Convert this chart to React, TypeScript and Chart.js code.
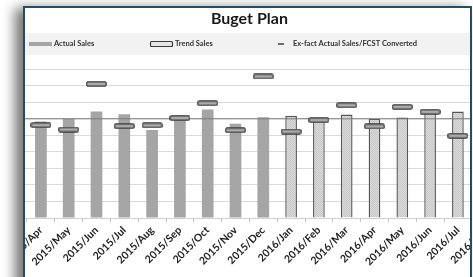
import React, { useEffect, useRef } from 'react';
import { Chart, registerables } from 'chart.js';

Chart.register(...registerables);

const categories = [
  '2015/Mar', '2015/Apr', '2015/May', '2015/Jun', '2015/Jul', '2015/Aug', '2015/Sep',
  '2015/Oct', '2015/Nov', '2015/Dec', '2016/Jan', '2016/Feb', '2016/Mar', '2016/Apr',
  '2016/May', '2016/Jun', '2016/Jul', '2016/Aug',
];
const actualSales = [
  null, 58.4, 60.0, 64.4, 62.8, 53.3, 62.0, 65.6, 57.0, 61.0,
  61.8, 60.0, 62.6, 60.0, 60.8, 65.2, 64.4, null,
];
const trendSales = [
  null, 56.2, 53.5, 81.1, 55.6, 56.0, 60.5, 69.4, 53.1, 85.6,
  52.3, 59.2, 68.2, 55.4, 67.2, 64.2, 49.7, null,
];
const exFactConverted = [
  60, 60, 60, 60, 60, 60, 60, 60, 60, 60, 60, 60, 60, 60, 60, 60, 60, 60,
];
const forecastFrom = '2016/Jan';
const yMin = 0;
const yMax = 90;
const yStep = 10;
const title = 'Buget Plan';
const legendLabels = ['Actual Sales', 'Trend Sales', 'Ex-fact Actual Sales/FCST Converted'];

function makeMarker(): HTMLCanvasElement {
  const c = document.createElement('canvas');
  c.width = 21;
  c.height = 6;
  const g = c.getContext('2d')!;
  g.fillStyle = '#ababab';
  g.strokeStyle = '#3a3a3a';
  g.lineWidth = 1.2;
  g.beginPath();
  (g as any).roundRect(0.8, 0.8, 19.4, 4.4, 1.2);
  g.fill();
  g.stroke();
  return c;
}

function makePattern(): CanvasPattern | string {
  const c = document.createElement('canvas');
  c.width = 2;
  c.height = 2;
  const g = c.getContext('2d')!;
  g.fillStyle = '#dadada';
  g.fillRect(0, 0, 2, 2);
  g.fillStyle = '#c8c8c8';
  g.fillRect(0, 0, 1, 1);
  g.fillRect(1, 1, 1, 1);
  const p = g.createPattern(c, 'repeat');
  return p || '#d4d4d4';
}

const legendPlugin = {
  id: 'excelLegend',
  afterDraw(chart: any) {
    const ctx = chart.ctx as CanvasRenderingContext2D;
    ctx.save();
    ctx.fillStyle = '#f2f2f2';
    ctx.fillRect(0, 25, chart.width, 22);
    const cy = 36;
    ctx.fillStyle = '#a5a5a5';
    ctx.fillRect(39, cy - 2, 23, 4);
    ctx.fillStyle = '#e6e6e6';
    ctx.strokeStyle = '#3a3a3a';
    ctx.lineWidth = 1.2;
    ctx.beginPath();
    (ctx as any).roundRect(160.5, cy - 2.5, 22, 5, 1);
    ctx.fill();
    ctx.stroke();
    ctx.strokeStyle = '#404040';
    ctx.lineWidth = 1.5;
    ctx.beginPath();
    ctx.moveTo(288, cy);
    ctx.lineTo(294, cy);
    ctx.stroke();
    ctx.fillStyle = '#333333';
    ctx.font = 'bold 7.5px Lato';
    ctx.textBaseline = 'middle';
    ctx.textAlign = 'left';
    ctx.fillText(legendLabels[0], 64, cy);
    ctx.fillText(legendLabels[1], 185, cy);
    ctx.fillText(legendLabels[2], 303, cy);
    ctx.restore();
  },
};

export default function App() {
  const ref = useRef<HTMLCanvasElement>(null);

  useEffect(() => {
    if (!ref.current) return;
    const fIdx = categories.indexOf(forecastFrom);
    const pattern = makePattern();
    const marker = makeMarker();
    const bg = categories.map((_, i) => (i >= fIdx ? pattern : '#a5a5a5'));
    const bc = categories.map((_, i) => (i >= fIdx ? '#555555' : '#a5a5a5'));
    const bw = categories.map((_, i) => (i >= fIdx ? 1.4 : 0));

    const chart = new Chart(ref.current, {
      type: 'bar',
      data: {
        labels: categories,
        datasets: [
          {
            type: 'line',
            label: legendLabels[1],
            data: trendSales as any,
            showLine: false,
            pointStyle: marker as any,
            pointRadius: 6,
            order: 0,
          } as any,
          {
            type: 'line',
            label: legendLabels[2],
            data: exFactConverted,
            borderColor: '#7a7a7a',
            borderWidth: 1,
            pointRadius: 0,
            order: 1,
          } as any,
          {
            type: 'bar',
            label: legendLabels[0],
            data: actualSales as any,
            backgroundColor: bg as any,
            borderColor: bc,
            borderWidth: bw,
            barPercentage: 0.42,
            categoryPercentage: 1,
            order: 2,
          } as any,
        ],
      },
      options: {
        animation: false,
        responsive: false,
        devicePixelRatio: 1,
        layout: { padding: { left: 9.2, right: 22.4, top: 0, bottom: 0 } },
        plugins: {
          legend: { display: false },
          tooltip: { enabled: false },
          title: {
            display: true,
            text: title,
            color: '#1a1a1a',
            font: { family: 'Lato', weight: 'bold', size: 16 },
            padding: { top: 1, bottom: 41 },
          },
        },
        scales: {
          x: {
            grid: {
              display: true,
              drawOnChartArea: false,
              drawTicks: true,
              tickLength: 4,
              color: '#bfbfbf',
              offset: true,
            },
            border: { display: true, color: '#d0d0d0' },
            ticks: {
              autoSkip: false,
              minRotation: 45,
              maxRotation: 45,
              padding: 2,
              color: '#222222',
              font: { family: 'Lato', weight: 'bold', size: 10.5 },
            },
            afterFit: (s: any) => {
              s.paddingLeft = 0;
              s.paddingRight = 0;
              s.height = 90;
            },
          },
          y: {
            min: yMin,
            max: yMax,
            ticks: { display: false, stepSize: yStep },
            grid: { color: '#d9d9d9', lineWidth: 1, drawTicks: false },
            border: { display: false },
            afterFit: (s: any) => {
              s.width = 0;
              s.paddingTop = 0;
              s.paddingBottom = 0;
            },
          },
        },
      },
      plugins: [legendPlugin],
    });
    return () => chart.destroy();
  }, []);

  return (
    <div
      style={{
        position: 'fixed',
        left: 0,
        top: 0,
        width: 473,
        height: 277,
        overflow: 'hidden',
        background: '#ffffff',
      }}
    >
      <div
        style={{
          position: 'absolute',
          left: 23,
          top: 6,
          width: 449,
          height: 290,
          boxSizing: 'border-box',
          border: '2px solid #1f4f60',
          overflow: 'hidden',
          background: '#ffffff',
          boxShadow: '-8px 2px 12px rgba(0,0,0,0.55)',
        }}
      >
        <canvas
          ref={ref}
          width={532}
          height={300}
          style={{ position: 'absolute', left: -35, top: 0, width: 532, height: 300 }}
        />
      </div>
    </div>
  );
}
